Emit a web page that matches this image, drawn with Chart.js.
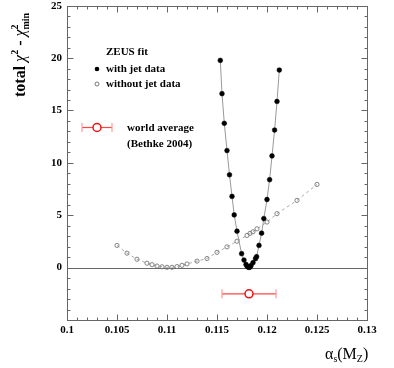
<!DOCTYPE html>
<html>
<head>
<meta charset="utf-8">
<script src="https://cdn.jsdelivr.net/npm/chart.js@4/dist/chart.umd.min.js"></script>
<style>
  body { margin: 0; background: #fff; }
  #wrap { width: 394px; height: 368px; }
</style>
</head>
<body>
<div id="wrap"><canvas id="mycanvas" width="394" height="368"></canvas></div>
<script>
// ZEUS fit, with jet data (filled dots)
var jetAlpha = [0.11533, 0.1155, 0.11573, 0.1160, 0.11625, 0.1165, 0.11672, 0.1170, 0.11746, 0.1177,
                0.1179, 0.1180, 0.1181, 0.1182, 0.1183, 0.1184, 0.1186, 0.11885, 0.11896, 0.1192,
                0.11946, 0.11968, 0.1200, 0.12026, 0.1205, 0.12076, 0.1210, 0.12123];
var jetChi2 = [19.78, 16.6, 13.77, 11.17, 8.86, 6.8, 5.03, 3.48, 1.33, 0.72,
               0.3, 0.15, 0.05, 0.02, 0.05, 0.19, 0.47, 0.85, 1.04, 2.12,
               3.29, 4.68, 6.5, 8.39, 10.66, 13.13, 15.86, 18.86];

// ZEUS fit, without jet data (open circles)
var noJetAlpha = [0.105, 0.106, 0.107, 0.108, 0.1085, 0.109, 0.1095, 0.110, 0.1105, 0.111, 0.1115, 0.112, 0.113,
                  0.114, 0.115, 0.116, 0.117, 0.118, 0.1183, 0.1186, 0.119, 0.120, 0.121, 0.123, 0.125];
var noJetChi2 = [2.12, 1.38, 0.8, 0.42, 0.28, 0.15, 0.08, 0.03, 0.03, 0.1, 0.22, 0.35, 0.62,
                 0.87, 1.46, 1.98, 2.52, 3.07, 3.27, 3.42, 3.7, 4.35, 5.15, 6.42, 7.94];

// world average (Bethke 2004)
var worldAvg = [0.1182];
var worldErr = [0.0027];
var worldY = [-2.5];

var xTicks = [0.1, 0.105, 0.11, 0.115, 0.12, 0.125, 0.13];
var yTicks = [0, 5, 10, 15, 20, 25];

function pts(xs, ys) {
	var out = [];
	for (var i in xs) out.push({x: xs[i], y: ys[i]});
	return out;
}

var serif = "'Liberation Serif', 'DejaVu Serif', serif";

var decor = {
	id: 'decor',
	beforeDatasetsDraw: function(chart) {
		var c = chart.ctx, a = chart.chartArea, ys = chart.scales.y;
		var y0 = Math.round(ys.getPixelForValue(0)) + 0.5;
		c.save();
		c.strokeStyle = '#666';
		c.lineWidth = 1;
		c.beginPath(); c.moveTo(a.left, y0); c.lineTo(a.right, y0); c.stroke();
		c.restore();
	},
	afterDraw: function(chart) {
		var c = chart.ctx, a = chart.chartArea;
		var xs = chart.scales.x, ys = chart.scales.y;
		var L = Math.round(a.left) + 0.5, R = Math.round(a.right) + 0.5;
		var T = Math.round(a.top) + 0.5, B = Math.round(a.bottom) + 0.5;
		c.save();
		c.strokeStyle = '#666';
		c.lineWidth = 1;
		c.strokeRect(L, T, R - L, B - T);
		c.beginPath();
		for (var i = 0; i <= 30; i++) {
			var px = Math.round(xs.getPixelForValue(0.1 + i * 0.001)) + 0.5;
			var len = (i % 5 == 0) ? 6 : 3;
			c.moveTo(px, B); c.lineTo(px, B - len);
			c.moveTo(px, T); c.lineTo(px, T + len);
		}
		for (var j = -5; j <= 25; j++) {
			var py = Math.round(ys.getPixelForValue(j)) + 0.5;
			var ln = (j % 5 == 0) ? 6 : 3;
			c.moveTo(L, py); c.lineTo(L + ln, py);
			c.moveTo(R, py); c.lineTo(R - ln, py);
		}
		c.stroke();

		// y axis title
		c.fillStyle = '#000';
		c.save();
		c.translate(25, 97);
		c.rotate(-Math.PI / 2);
		c.textBaseline = 'alphabetic';
		c.textAlign = 'left';
		var x = 0;
		c.font = 'bold 16px ' + serif;
		c.fillText('total ', x, 0); x += c.measureText('total ').width;
		c.font = 'italic 16px ' + serif;
		c.fillText('\u03c7', x, 0); x += c.measureText('\u03c7').width;
		c.font = 'bold 10px ' + serif;
		c.fillText('2', x, -7); x += c.measureText('2').width;
		c.font = 'bold 16px ' + serif;
		c.fillText(' - ', x, 0); x += c.measureText(' - ').width;
		c.font = 'italic 16px ' + serif;
		c.fillText('\u03c7', x, 0); x += c.measureText('\u03c7').width;
		c.font = 'bold 10px ' + serif;
		c.fillText('2', x, -7);
		c.fillText('min', x, 4);
		c.restore();

		// x axis title
		c.textBaseline = 'alphabetic';
		c.textAlign = 'left';
		var tx = 325, ty = 359;
		c.font = '16px ' + serif;
		c.fillText('\u03b1', tx, ty); tx += c.measureText('\u03b1').width;
		c.font = '10px ' + serif;
		c.fillText('s', tx, ty + 3); tx += c.measureText('s').width;
		c.font = '16px ' + serif;
		c.fillText('(M', tx, ty); tx += c.measureText('(M').width;
		c.font = '10px ' + serif;
		c.fillText('Z', tx, ty + 3); tx += c.measureText('Z').width;
		c.font = '16px ' + serif;
		c.fillText(')', tx, ty);

		// legend
		c.font = 'bold 11px ' + serif;
		c.textBaseline = 'middle';
		c.fillText('ZEUS fit', 106, 52);
		c.fillText('with jet data', 106, 69);
		c.fillText('without jet data', 106, 84);
		c.fillText('world average', 127, 128);
		c.fillText('(Bethke 2004)', 127, 144);
		c.beginPath(); c.arc(97, 69, 2.3, 0, 2 * Math.PI); c.fill();
		c.strokeStyle = '#777';
		c.beginPath(); c.arc(97, 84, 2, 0, 2 * Math.PI); c.stroke();
		c.strokeStyle = '#f44';
		c.lineWidth = 1.2;
		c.beginPath(); c.moveTo(82, 127.5); c.lineTo(112, 127.5); c.stroke();
		c.strokeStyle = '#f99';
		c.beginPath();
		c.moveTo(82, 123); c.lineTo(82, 132);
		c.moveTo(112, 123); c.lineTo(112, 132);
		c.stroke();
		c.fillStyle = '#fff';
		c.strokeStyle = '#e11';
		c.lineWidth = 1.5;
		c.beginPath(); c.arc(97, 127.5, 4, 0, 2 * Math.PI); c.fill(); c.stroke();
		c.restore();
	}
};

var ctx = document.getElementById('mycanvas');
var myChart = new Chart(ctx, {
	type: 'scatter',
	data: {
		datasets: [{
			label: 'with jet data',
			data: pts(jetAlpha, jetChi2),
			showLine: true,
			borderColor: '#999',
			borderWidth: 1,
			pointRadius: 2.4,
			pointBackgroundColor: '#000',
			pointBorderColor: '#000',
			pointBorderWidth: 0.5,
			order: 0
		}, {
			label: 'without jet data',
			data: pts(noJetAlpha, noJetChi2),
			showLine: true,
			borderColor: '#aaa',
			borderWidth: 1,
			borderDash: [3, 3],
			pointRadius: 2.1,
			pointBackgroundColor: 'rgba(255,255,255,0)',
			pointBorderColor: '#777',
			pointBorderWidth: 0.9,
			order: 1
		}, {
			label: 'world average',
			data: [{x: worldAvg[0], y: worldY[0]}],
			pointRadius: 4,
			pointBackgroundColor: '#fff',
			pointBorderColor: '#e11',
			pointBorderWidth: 1.5,
			order: 2
		}, {
			label: 'world average error',
			data: [{x: worldAvg[0] - worldErr[0], y: worldY[0]}, {x: worldAvg[0] + worldErr[0], y: worldY[0]}],
			showLine: true,
			borderColor: '#f44',
			borderWidth: 1.2,
			pointStyle: 'line',
			rotation: 90,
			pointRadius: 4.5,
			pointBorderColor: '#f99',
			pointBorderWidth: 1.2,
			order: 3
		}]
	},
	options: {
		responsive: false,
		animation: false,
		layout: { padding: { top: 3, right: 27, left: 0, bottom: 0 } },
		plugins: { legend: { display: false }, tooltip: { enabled: false } },
		scales: {
			x: {
				type: 'linear',
				min: 0.1,
				max: 0.13,
				grid: { display: false, drawTicks: false },
				border: { display: false },
				afterBuildTicks: function(s) { s.ticks = xTicks.map(function(v) { return {value: v}; }); },
				afterFit: function(s) { s.height = 48; s.paddingLeft = 0; s.paddingRight = 0; },
				ticks: {
					padding: 4,
					color: '#000',
					font: { family: serif, size: 11, weight: 'bold' },
					maxRotation: 0,
					callback: function(v) { return String(+v.toFixed(3)); }
				}
			},
			y: {
				type: 'linear',
				min: -5,
				max: 25,
				grid: { display: false, drawTicks: false },
				border: { display: false },
				afterBuildTicks: function(s) { s.ticks = yTicks.map(function(v) { return {value: v}; }); },
				afterFit: function(s) { s.width = 67; s.paddingTop = 0; s.paddingBottom = 0; },
				ticks: {
					padding: 5,
					color: '#000',
					font: { family: serif, size: 11, weight: 'bold' },
					callback: function(v) { return String(v); }
				}
			}
		}
	},
	plugins: [decor]
});
</script>
</body>
</html>
